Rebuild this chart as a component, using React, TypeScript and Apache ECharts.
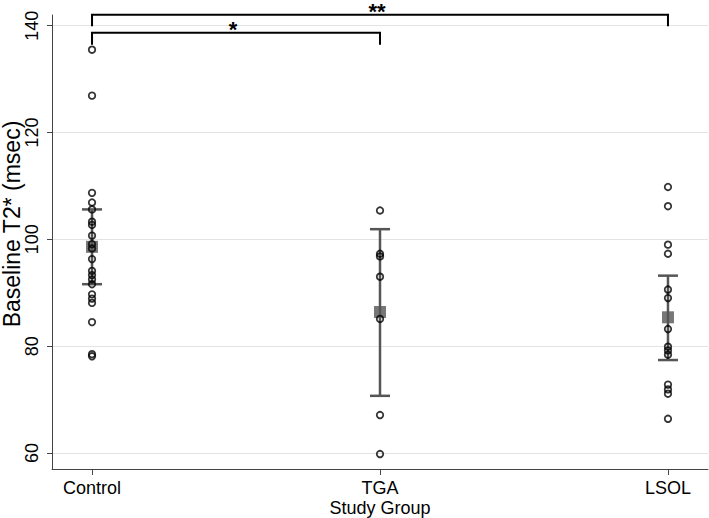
import React, { useEffect, useRef } from "react";
import * as echarts from "echarts";

const groups = ["Control", "TGA", "LSOL"];
const controlValues = [135.5, 126.9, 108.7, 106.9, 105.6, 103.3, 102.7, 100.7, 99.1, 98.3, 96.3, 94.1, 93.3, 92.5, 91.6, 89.7, 88.9, 88.1, 84.5, 78.5, 78.1];
const tgaValues = [105.4, 97.3, 96.8, 93.0, 85.1, 67.1, 59.8];
const lsolValues = [109.8, 106.2, 99.0, 97.3, 90.6, 89.0, 83.2, 79.9, 79.2, 78.4, 72.8, 71.9, 71.1, 66.4];
const groupMeans = [98.6, 86.4, 85.4];
const ciLower = [91.6, 70.7, 77.4];
const ciUpper = [105.6, 101.9, 93.2];
const yTicks = [60, 80, 100, 120, 140];
const xTicks = [0, 1, 2];
const bracketFrom = [0, 0];
const bracketTo = [2, 1];
const bracketTop = [142.06, 138.69];
const bracketFoot = [139.9, 136.44];
const bracketLabels = ["**", "*"];

const FONT = "Liberation Sans, Arial, Helvetica, sans-serif";

export default function App() {
  const ref = useRef<HTMLDivElement>(null);
  useEffect(() => {
    if (!ref.current) return;
    const chart = echarts.init(ref.current, undefined, { renderer: "svg" });
    const allGroups = [controlValues, tgaValues, lsolValues];
    const pointSeries = allGroups.map((vals, gi) => ({
      type: "scatter",
      name: groups[gi],
      data: vals.map((v) => [gi, v]),
      symbol: "circle",
      symbolSize: 6.5,
      z: 4,
      itemStyle: { color: "rgba(255,255,255,0)", borderColor: "#000", borderWidth: 1.8 },
      silent: true,
    }));
    const option: any = {
      animation: false,
      backgroundColor: "#fff",
      textStyle: { fontFamily: FONT },
      grid: { left: 52, right: 1, top: 15, bottom: 49, outerBoundsMode: "none", containLabel: false },
      xAxis: {
        type: "value",
        min: -0.139,
        max: 2.139,
        name: "Study Group",
        nameLocation: "middle",
        nameGap: 30,
        nameMoveOverlap: false,
        nameTextStyle: { fontSize: 18, color: "#000", fontFamily: FONT },
        axisLine: { show: true, onZero: false, lineStyle: { color: "#444", width: 1 } },
        axisTick: { show: true, customValues: xTicks, length: 6, lineStyle: { color: "#444" } },
        axisLabel: {
          customValues: xTicks,
          formatter: (v: number) => groups[Math.round(v)] ?? "",
          fontSize: 18,
          color: "#000",
          margin: 10,
          fontFamily: FONT,
        },
        splitLine: { show: false },
      },
      yAxis: {
        type: "value",
        min: 57,
        max: 142,
        name: "Baseline T2* (msec)",
        nameLocation: "middle",
        nameGap: 29,
        nameMoveOverlap: false,
        nameTextStyle: { fontSize: 23, color: "#000", fontFamily: FONT, padding: [0, 0, 0, 36] },
        axisLine: { show: true, onZero: false, lineStyle: { color: "#444", width: 1 } },
        axisTick: { show: true, customValues: yTicks, length: 5, lineStyle: { color: "#444" } },
        axisLabel: { customValues: yTicks, rotate: 90, fontSize: 18, color: "#000", margin: 11, fontFamily: FONT },
        splitLine: { show: false },
      },
      series: [
        {
          type: "custom",
          name: "ci",
          z: 2,
          silent: true,
          data: groupMeans.map((_, i) => [i, ciLower[i], ciUpper[i]]),
          encode: { x: 0, y: [1, 2] },
          renderItem: (params: any, api: any) => {
            const x = api.value(0);
            const pLo = api.coord([x, api.value(1)]);
            const pHi = api.coord([x, api.value(2)]);
            const half = 10;
            const style = { stroke: "#555", lineWidth: 2.5 };
            return {
              type: "group",
              children: [
                { type: "line", shape: { x1: pLo[0], y1: pLo[1], x2: pHi[0], y2: pHi[1] }, style },
                { type: "line", shape: { x1: pLo[0] - half, y1: pLo[1], x2: pLo[0] + half, y2: pLo[1] }, style },
                { type: "line", shape: { x1: pHi[0] - half, y1: pHi[1], x2: pHi[0] + half, y2: pHi[1] }, style },
              ],
            };
          },
          markLine: {
            silent: true,
            symbol: ["none", "none"],
            label: { show: false },
            z: 0,
            lineStyle: { color: "#e3e3e3", width: 1, type: "solid" },
            data: yTicks.map((t) => ({ yAxis: t })),
          },
        },
        {
          type: "scatter",
          name: "mean",
          z: 3,
          silent: true,
          symbol: "rect",
          symbolSize: 12,
          itemStyle: { color: "#555" },
          data: groupMeans.map((m, i) => [i, m]),
        },
        ...pointSeries,
        {
          type: "custom",
          name: "brackets",
          z: 5,
          silent: true,
          clip: false,
          data: bracketFrom.map((f, i) => [f, bracketTo[i], bracketTop[i], bracketFoot[i]]),
          encode: { x: [0, 1], y: [2, 3] },
          renderItem: (params: any, api: any) => {
            const a = api.coord([api.value(0), api.value(2)]);
            const b = api.coord([api.value(1), api.value(2)]);
            const f = api.coord([api.value(0), api.value(3)]);
            return {
              type: "group",
              children: [
                {
                  type: "polyline",
                  shape: { points: [[a[0], f[1]], [a[0], a[1]], [b[0], b[1]], [b[0], f[1]]] },
                  style: { stroke: "#000", lineWidth: 2, fill: "none" },
                },
                {
                  type: "text",
                  x: (a[0] + b[0]) / 2 - 3,
                  y: a[1] - 14,
                  style: {
                    text: bracketLabels[params.dataIndex],
                    fontSize: 22,
                    fontWeight: "bold",
                    fontFamily: FONT,
                    fill: "#000",
                    align: "center",
                    verticalAlign: "top",
                  },
                },
              ],
            };
          },
        },
      ],
    };
    chart.setOption(option);
    return () => chart.dispose();
  }, []);
  return <div ref={ref} style={{ width: 709, height: 518, position: "absolute", left: 0, top: 0 }} />;
}
